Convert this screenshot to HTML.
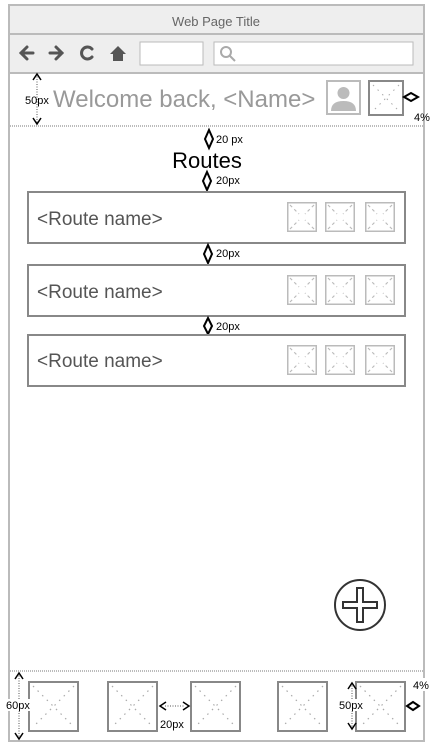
<!DOCTYPE html>
<html><head><meta charset="utf-8"><style>
html,body{margin:0;padding:0;background:#fff;width:434px;height:750px;overflow:hidden}
svg{display:block;font-family:"Liberation Sans",Arial,sans-serif}
</style></head><body>
<svg width="434" height="750" viewBox="0 0 434 750">
<defs>
<g id="ph"><rect x="0.75" y="0.75" width="28.5" height="28.5" fill="#fff" stroke="#bbb" stroke-width="1.5"/><path d="M3 3L12 12M27 3L18 12M3 27L12 18M27 27L18 18" stroke="#bbb" stroke-width="1.2" stroke-dasharray="3 3"/></g>
<g id="bph"><rect x="1" y="1" width="49" height="49" fill="#fff" stroke="#888" stroke-width="2"/><path d="M5 5L46 46M46 5L5 46" stroke="#aaa" stroke-width="1.2" stroke-dasharray="1.5 5"/></g>
</defs>
<rect x="9" y="5" width="415" height="736" fill="#fff" stroke="#bbb" stroke-width="2"/>
<rect x="10" y="6" width="413" height="28" fill="#eee"/>
<text x="216" y="26" font-size="13" fill="#666" text-anchor="middle">Web Page Title</text>
<line x1="10" y1="34" x2="423" y2="34" stroke="#bbb" stroke-width="2"/>
<rect x="10" y="35" width="413" height="38" fill="#eee"/>
<line x1="10" y1="73" x2="423" y2="73" stroke="#bbb" stroke-width="2"/>
<g stroke="#555" stroke-width="3" fill="none" stroke-linecap="round">
<path d="M21 53H33M27 47L21 53L27 59"/>
<path d="M50 53H62M56 47L62 53L56 59"/>
<path d="M92 49A6 6 0 1 0 92 57"/>
</g>
<path d="M110 54L118 46L126 54H123V61H113V54Z" fill="#555"/>
<rect x="140" y="42" width="63" height="23" fill="#fff" stroke="#bbb"/>
<rect x="214" y="42" width="199" height="23" fill="#fff" stroke="#bbb"/>
<g stroke="#aaa" stroke-width="2" fill="none"><circle cx="226" cy="52" r="5"/><path d="M230 56L235 61"/></g>
<text x="53" y="107" font-size="24" fill="#999">Welcome back, &lt;Name&gt;</text>
<g><rect x="327" y="81" width="33" height="33" fill="#fff" stroke="#bbb" stroke-width="2"/><circle cx="343.5" cy="93" r="6" fill="#bbb"/><path d="M331 111Q331 101 343.5 101Q356 101 356 111Z" fill="#bbb"/></g>
<g><rect x="369" y="81" width="34" height="34" fill="#fff" stroke="#888" stroke-width="2"/><path d="M373 85L399 111M399 85L373 111" stroke="#aaa" stroke-dasharray="1.5 5"/></g>
<path d="M404 97L411 93L418 97L411 101Z" fill="none" stroke="#000" stroke-width="2"/>
<text x="414" y="121" font-size="11" fill="#000">4%</text>
<path d="M37 74V124" stroke="#555" stroke-dasharray="1 1.5"/>
<path d="M33 80L37 74L41 80M33 118L37 124L41 118" fill="none" stroke="#000" stroke-width="1.5"/>
<text x="25" y="104" font-size="11" fill="#000">50px</text>
<line x1="10" y1="126" x2="423" y2="126" stroke="#777" stroke-dasharray="1 1"/>
<path d="M209 130L213 139L209 148L205 139Z" fill="none" stroke="#000" stroke-width="2"/>
<text x="216" y="143" font-size="11" fill="#000">20 px</text>
<text x="207" y="168" font-size="22" fill="#000" text-anchor="middle">Routes</text>
<path d="M207 172L211 181L207 190L203 181Z" fill="none" stroke="#000" stroke-width="2"/>
<text x="216" y="184" font-size="11" fill="#000">20px</text>
<g><rect x="28" y="192" width="377" height="51" fill="#fff" stroke="#888" stroke-width="2"/><text x="37" y="225" font-size="19" fill="#555">&lt;Route name&gt;</text><use href="#ph" x="287" y="202"/><use href="#ph" x="325" y="202"/><use href="#ph" x="365" y="202"/></g>
<path d="M208 245L212 254L208 263L204 254Z" fill="none" stroke="#000" stroke-width="2"/>
<text x="216" y="257" font-size="11" fill="#000">20px</text>
<g><rect x="28" y="265" width="377" height="51" fill="#fff" stroke="#888" stroke-width="2"/><text x="37" y="298" font-size="19" fill="#555">&lt;Route name&gt;</text><use href="#ph" x="287" y="275"/><use href="#ph" x="325" y="275"/><use href="#ph" x="365" y="275"/></g>
<path d="M208 318L212 326L208 334L204 326Z" fill="none" stroke="#000" stroke-width="2"/>
<text x="216" y="330" font-size="11" fill="#000">20px</text>
<g><rect x="28" y="335" width="377" height="51" fill="#fff" stroke="#888" stroke-width="2"/><text x="37" y="367" font-size="19" fill="#555">&lt;Route name&gt;</text><use href="#ph" x="287" y="345"/><use href="#ph" x="325" y="345"/><use href="#ph" x="365" y="345"/></g>
<g><circle cx="360" cy="605" r="25" fill="#fff" stroke="#333" stroke-width="2"/><path d="M357 588H363V602H377V608H363V622H357V608H343V602H357Z" fill="#fff" stroke="#333" stroke-width="2"/></g>
<line x1="10" y1="671" x2="423" y2="671" stroke="#777" stroke-dasharray="1 1"/>
<g>
<use href="#bph" x="28" y="681"/>
<use href="#bph" x="107" y="681"/>
<use href="#bph" x="190" y="681"/>
<use href="#bph" x="277" y="681"/>
<use href="#bph" x="355" y="681"/>
</g>
<path d="M19 673V739M352 683V729" stroke="#555" stroke-dasharray="1 1.5"/>
<path d="M15 679L19 673L23 679M15 733L19 739L23 733M348 689L352 683L356 689M348 723L352 729L356 723" fill="none" stroke="#000" stroke-width="1.5"/>
<rect x="5" y="699" width="27" height="12" fill="#fff"/>
<text x="6" y="709" font-size="11" fill="#000">60px</text>
<rect x="338" y="699" width="28" height="12" fill="#fff"/>
<text x="339" y="709" font-size="11" fill="#000">50px</text>
<path d="M165 706H184" stroke="#555" stroke-dasharray="1 1.5"/>
<path d="M166 702L160 706L166 710M183 702L189 706L183 710" fill="none" stroke="#000" stroke-width="1.5"/>
<rect x="159" y="717" width="29" height="13" fill="#fff"/>
<text x="160" y="728" font-size="11" fill="#000">20px</text>
<path d="M407 706L413 702L419 706L413 710Z" fill="none" stroke="#000" stroke-width="2"/>
<rect x="412" y="678" width="20" height="13" fill="#fff"/>
<text x="413" y="689" font-size="11" fill="#000">4%</text>
</svg>
</body></html>
